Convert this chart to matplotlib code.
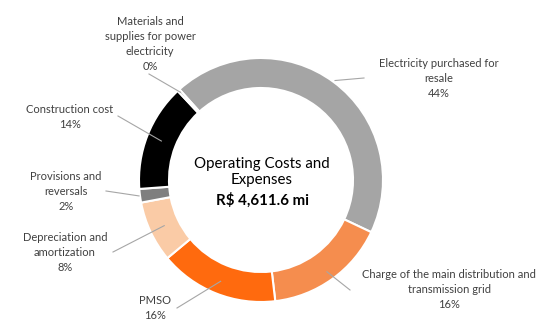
import numpy as np
from matplotlib import pyplot as plt

plt.rcParams['font.family'] = ['Lato', 'DejaVu Sans']

categories = ['Electricity purchased for\nresale',
              'Charge of the main distribution and\ntransmission grid',
              'PMSO',
              'Depreciation and\namortization',
              'Provisions and\nreversals',
              'Construction cost',
              'Materials and\nsupplies for power\nelectricity']
shares = [43.7, 16.1, 15.8, 8.1, 1.8, 14.2, 0.3]
pct_labels = ['44%', '16%', '16%', '8%', '2%', '14%', '0%']
colors = ['#A5A5A5', '#F58D4E', '#FF6A0E', '#FACBA6', '#7F7F7F', '#000000', '#1A1A1A']

# label text position (px from top-left, first line centre) and leader geometry
label_pos = [(439, 64), (449, 275), (155, 301), (65, 238), (66, 177), (70, 110), (150, 22)]
leader_start = [(364, 78), (350, 290), (177, 308), (113, 252), (106, 191), (118, 116), (149, 74)]
leader_r = [124, 113, 109, 107, 123, 107, 119]

W, H = 552, 329
cx, cy = 261, H - 180
R = 122

fig = plt.figure(figsize=(W / 100, H / 100), dpi=100)
ax = fig.add_axes([0, 0, 1, 1])

wedges, _ = ax.pie(shares, colors=colors, startangle=132, counterclock=False,
                   center=(cx, cy), radius=R,
                   wedgeprops=dict(width=30, edgecolor='white', linewidth=1.5))
ax.set_xlim(0, W)
ax.set_ylim(0, H)
ax.set_aspect('equal')
ax.axis('off')

for i, w in enumerate(wedges):
    mid = np.deg2rad((w.theta1 + w.theta2) / 2)
    ex = cx + leader_r[i] * np.cos(mid)
    ey = cy + leader_r[i] * np.sin(mid)
    sx, sy = leader_start[i]
    ax.plot([sx, ex], [H - sy, ey], color='#A6A6A6', lw=0.8)
    tx, ty = label_pos[i]
    ax.text(tx, H - ty + 6, categories[i] + '\n' + pct_labels[i], ha='center', va='top',
            fontsize=8, color='#404040', linespacing=1.45)

ax.text(cx + 1, H - 172, 'Operating Costs and\nExpenses', ha='center', va='center',
        fontsize=10.8, color='#000000', linespacing=1.25)
ax.text(cx + 1, H - 200, 'R$ 4,611.6 mi', ha='center', va='center',
        fontsize=10.8, fontweight='bold', color='#000000')

fig.savefig('out.png', dpi=100)
